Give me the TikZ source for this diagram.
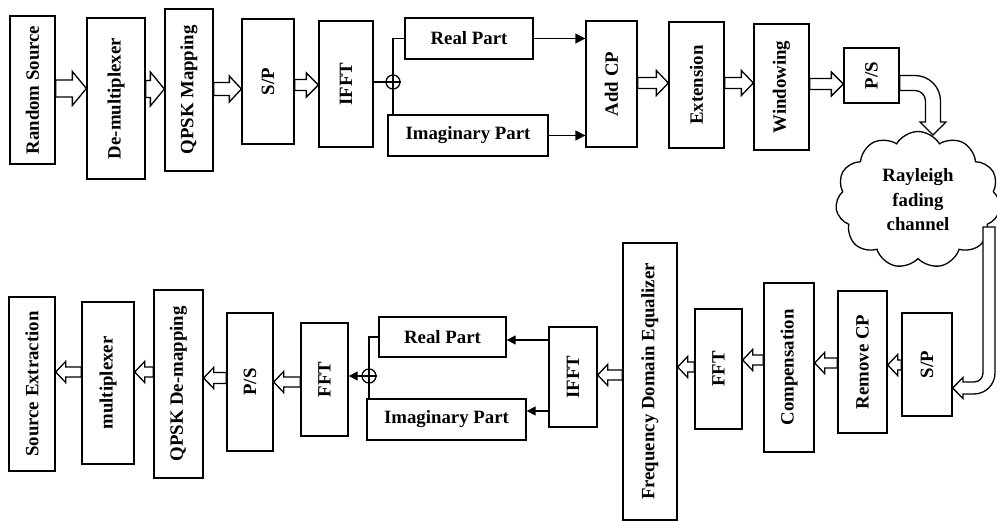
\documentclass[tikz,border=0pt]{standalone}
\usepackage{fontspec}
\usepackage{graphicx}
\setmainfont{Liberation Serif}
\usetikzlibrary{calc,shapes.symbols,arrows.meta}
\tikzset{
  blk/.style={draw, line width=1.3pt, inner sep=0pt, fill=white, font=\fontsize{18.8}{24.5}\selectfont\bfseries},
  barrow/.style={draw, fill=white, line width=1.3pt, line join=miter},
  conn/.style={line width=1.3pt},
  arr/.style={conn, -{Triangle[length=10pt,width=10pt]}},
  arrs/.style={conn, -{Triangle[length=9pt,width=9pt]}},
  sumc/.style={draw, circle, line width=1.3pt, minimum size=14pt, inner sep=0pt},
}
% block node: name, cx, cy, width, height, text (rotated)
\newcommand\myblk[6]{\node[blk, minimum width=#4, minimum height=#5] (#1) at (#2,#3) {\rotatebox{90}{#6}};}
\newcommand\myhblk[6]{\node[blk, minimum width=#4, minimum height=#5] (#1) at (#2,#3) {#6};}
% right-pointing hollow block arrow: from, to, y, shaft half, head half, head length
\newcommand\barR[6]{\draw[barrow] ($(#1.east |- 0,#3)+(0,-#4)$) -- ($(#2.west |- 0,#3)+(-#6,-#4)$) -- ($(#2.west |- 0,#3)+(-#6,-#5)$) -- (#2.west |- 0,#3) -- ($(#2.west |- 0,#3)+(-#6,#5)$) -- ($(#2.west |- 0,#3)+(-#6,#4)$) -- ($(#1.east |- 0,#3)+(0,#4)$) -- cycle;}
% left-pointing hollow block arrow
\newcommand\barL[6]{\draw[barrow] ($(#1.west |- 0,#3)+(0,-#4)$) -- ($(#2.east |- 0,#3)+(#6,-#4)$) -- ($(#2.east |- 0,#3)+(#6,-#5)$) -- (#2.east |- 0,#3) -- ($(#2.east |- 0,#3)+(#6,#5)$) -- ($(#2.east |- 0,#3)+(#6,#4)$) -- ($(#1.west |- 0,#3)+(0,#4)$) -- cycle;}
\begin{document}
\begin{tikzpicture}[x=1pt,y=-1pt]
\clip (0,0) rectangle (997,521);
\fill[white] (0,0) rectangle (997,521);
% ---------- top row ----------
\myblk{rs}{32.5}{90}{45}{148}{Random Source}
\myblk{demux}{116}{98.5}{58}{161}{De-multiplexer}
\myblk{qpsk}{189}{90}{48}{162}{QPSK Mapping}
\myblk{spa}{268}{81.5}{52}{125}{S/P}
\myblk{iffta}{346}{84}{54}{126}{IFFT}
\myhblk{rpa}{469}{38.5}{128}{41}{Real Part}
\myhblk{ipa}{468}{135.5}{160}{41}{Imaginary Part}
\myblk{addcp}{611.5}{84}{51}{126}{Add CP}
\myblk{ext}{696.5}{85}{55}{126}{Extension}
\myblk{win}{781.5}{87}{55}{126}{Windowing}
\myblk{psa}{871.5}{75.5}{55}{55}{P/S}
\node[sumc] (suma) at (393,82) {};

\barR{rs}{demux}{88.5}{8.5}{17}{14}
\barR{demux}{qpsk}{89}{8.5}{17}{14}
\barR{qpsk}{spa}{89}{6.5}{13}{12}
\barR{spa}{iffta}{85}{5.5}{12}{12}
\barR{addcp}{ext}{83}{5.5}{12.5}{12}
\barR{ext}{win}{83}{5.5}{12.5}{12}
\barR{win}{psa}{84}{5.5}{12}{12}

\draw[conn] (iffta.east |- suma) -- (suma.east);
\draw[conn] (rpa.west) -| (suma |- ipa.north);
\draw[arr] (rpa.east) -- (addcp.west |- rpa.east);
\draw[arr] (ipa.east) -- (addcp.west |- ipa.east);

% ---------- channel ----------
\node[cloud, draw, fill=white, line width=1.3pt, cloud puffs=11, cloud puff arc=120, cloud ignores aspect,
      minimum width=165pt, minimum height=137pt, inner sep=0pt, align=center,
      font=\fontsize{18.8}{24.5}\selectfont\bfseries] (cl) at (918,200) {Rayleigh\\fading\\channel};
\draw[barrow] (psa.east |- 0,75.5) -- (915,75.5) .. controls (929.1,75.5) and (940.5,86.9) .. (940.5,101)
   -- (940.5,122) -- (946,122) -- (933,135) -- (920,122) -- (925.5,122) -- (925.5,101)
   .. controls (925.5,95.2) and (920.8,90.5) .. (915,90.5) -- (psa.east |- 0,90.5) -- cycle;

% ---------- bottom row ----------
\myblk{se}{32}{384}{46}{174}{Source Extraction}
\myblk{mux}{108}{383}{52}{162}{multiplexer}
\myblk{qdm}{178.5}{384}{49}{188}{QPSK De-mapping}
\myblk{psb}{250}{382}{46}{138}{P/S}
\myblk{fftb}{324.5}{379.5}{47}{113}{FFT}
\myhblk{rpb}{442.5}{337}{127}{40}{Real Part}
\myhblk{ipb}{446.5}{419.5}{159}{41}{Imaginary Part}
\myblk{ifftb}{573}{377}{48}{100}{IFFT}
\myblk{fde}{650}{381.5}{54}{277}{Frequency Domain Equalizer}
\myblk{fftc}{718.5}{369}{47}{120}{FFT}
\myblk{comp}{789}{367.5}{50}{169}{Compensation}
\myblk{rcp}{862.5}{362}{49}{142}{Remove CP}
\myblk{spb}{927}{364.5}{50}{103}{S/P}
\node[sumc] (sumb) at (369,376) {};

\draw[barrow] (983,227) -- (995,227) -- (995,373) .. controls (995,384.6) and (985.6,394) .. (974,394)
   -- (963,394) -- (963,398.5) -- (spb.east |- 0,388) -- (963,377.5) -- (963,382) -- (974,382)
   .. controls (979,382) and (983,378) .. (983,373) -- cycle;

\barL{spb}{rcp}{365}{5}{10.5}{10}
\barL{rcp}{comp}{363}{5}{10.5}{10}
\barL{comp}{fftc}{360}{5}{10.5}{10}
\barL{fftc}{fde}{367}{5}{10.5}{10}
\barL{fde}{ifftb}{375}{5}{10.5}{10}
\barL{fftb}{psb}{382}{5}{10.5}{10}
\barL{psb}{qdm}{378}{5.5}{10.5}{10}
\barL{qdm}{mux}{372}{5}{10.5}{10}
\barL{mux}{se}{372}{5}{10.5}{10}

\draw[arrs] (ifftb.west |- 0,340) -- (rpb.east |- 0,340);
\draw[arrs] (ifftb.west |- 0,411) -- (ipb.east |- 0,411);
\draw[conn] (rpb.west) -| (sumb |- ipb.north);
\draw[conn] (sumb.west) -- (sumb.east);
\draw[arrs] (sumb.west) -- (fftb.east |- sumb);
\end{tikzpicture}
\end{document}
